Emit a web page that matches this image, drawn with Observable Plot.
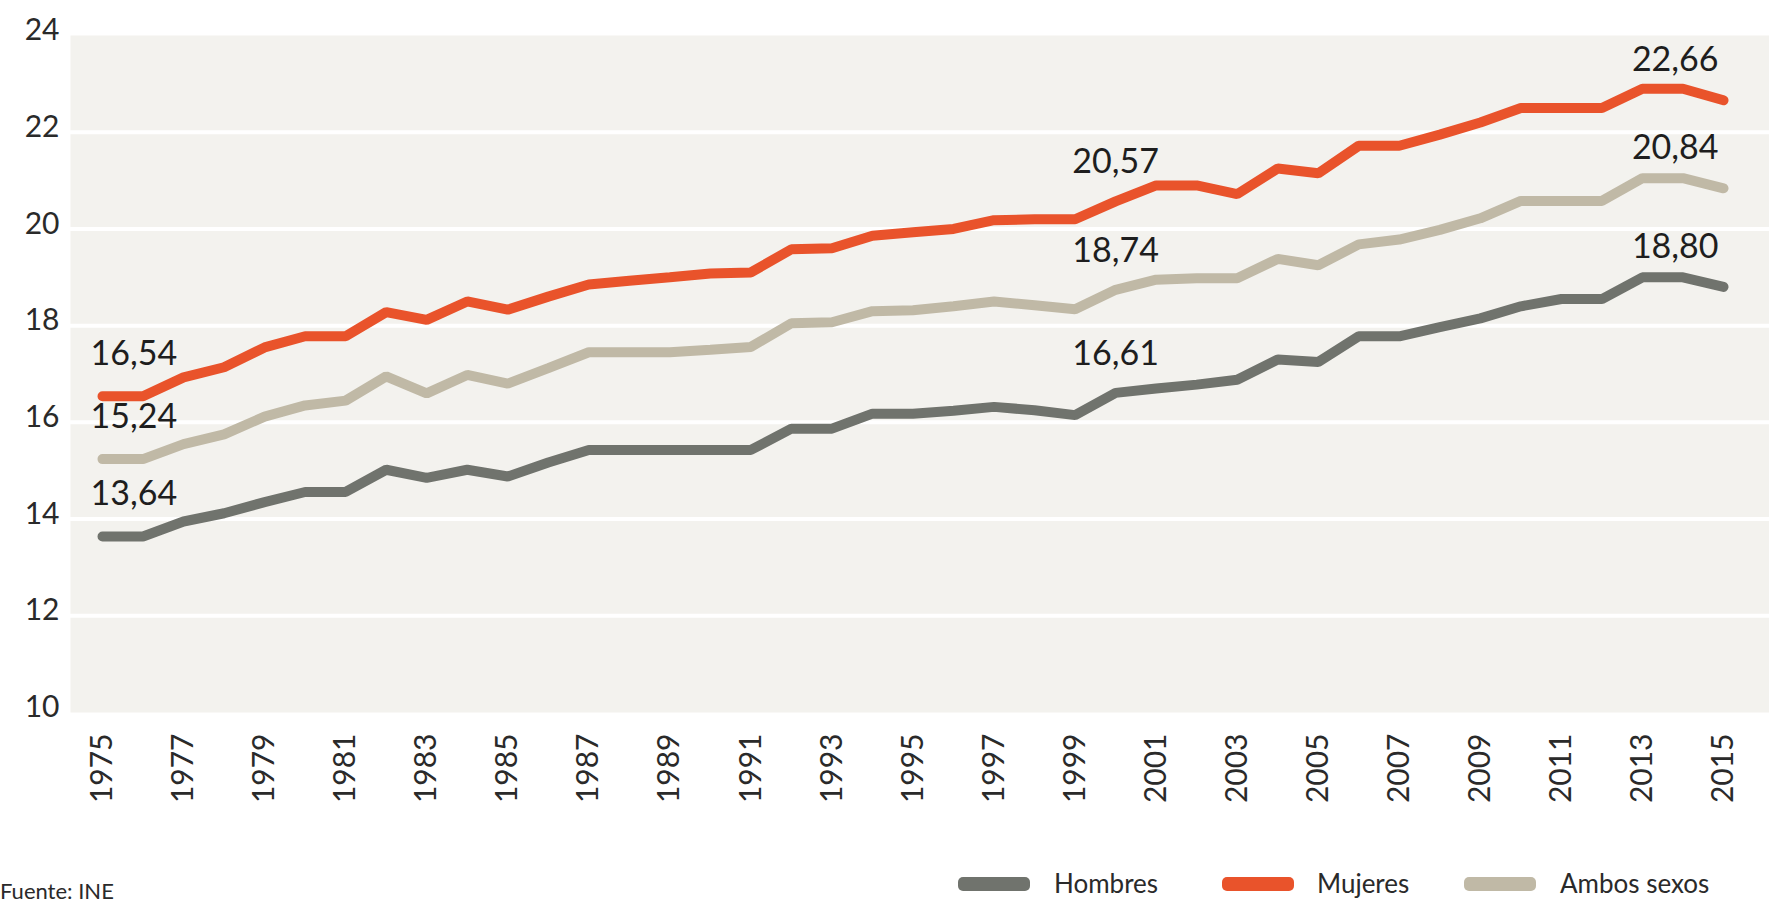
<!DOCTYPE html>
<html>
<head>
<meta charset="utf-8">
<script src="https://cdn.jsdelivr.net/npm/d3@7"></script>
<script src="https://cdn.jsdelivr.net/npm/@observablehq/plot@0.6"></script>
<style>
  html, body { margin: 0; padding: 0; background: #ffffff; }
  #wrap { position: relative; width: 1769px; height: 908px; font-family: Lato, "Open Sans", sans-serif; color: #2a2a2a; }
  #chart svg { display: block; }
  #foot { position: absolute; left: 0; top: 850px; width: 1769px; height: 58px; }
  .src { position: absolute; left: 0; top: 28px; font-size: 22px; line-height: 26px; color: #2a2a2a; }
  .sw { position: absolute; top: 27px; width: 72px; height: 14px; border-radius: 5px; }
  .lt { position: absolute; top: 18px; font-size: 26px; line-height: 30px; color: #2a2a2a; }
</style>
</head>
<body>
<div id="wrap">
  <div id="chart"></div>
  <div id="foot"></div>
</div>
<script>
// ---- data ----
const years = [1975,1976,1977,1978,1979,1980,1981,1982,1983,1984,1985,1986,1987,1988,1989,1990,1991,1992,1993,1994,1995,1996,1997,1998,1999,2000,2001,2002,2003,2004,2005,2006,2007,2008,2009,2010,2011,2012,2013,2014,2015];
const hombres = [13.64,13.64,13.95,14.12,14.35,14.56,14.56,15.02,14.85,15.02,14.88,15.17,15.43,15.43,15.43,15.43,15.43,15.87,15.87,16.18,16.18,16.24,16.32,16.25,16.15,16.61,16.70,16.78,16.88,17.30,17.25,17.78,17.78,17.97,18.15,18.40,18.55,18.55,19.00,19.00,18.80];
const mujeres = [16.54,16.54,16.93,17.14,17.55,17.78,17.78,18.28,18.12,18.50,18.33,18.60,18.85,18.93,19.00,19.08,19.10,19.58,19.60,19.86,19.93,20.00,20.18,20.20,20.20,20.57,20.90,20.90,20.72,21.25,21.15,21.72,21.72,21.95,22.20,22.50,22.50,22.50,22.90,22.90,22.66];
const ambos = [15.24,15.24,15.55,15.75,16.12,16.35,16.45,16.95,16.60,16.98,16.80,17.12,17.45,17.45,17.45,17.50,17.56,18.05,18.07,18.30,18.32,18.40,18.50,18.42,18.34,18.74,18.95,18.98,18.98,19.38,19.25,19.68,19.78,19.98,20.22,20.58,20.58,20.58,21.05,21.05,20.84];
const series = ["Hombres", "Mujeres", "Ambos sexos"];
const colors = ["#70736d", "#e9532b", "#c0b9a6"];
const yTicks = [10,12,14,16,18,20,22,24];
const gridTicks = [12,14,16,18,20,22];
const xTicks = [1975,1977,1979,1981,1983,1985,1987,1989,1991,1993,1995,1997,1999,2001,2003,2005,2007,2009,2011,2013,2015];
const labelYears = [1975, 2000, 2015];
const source = "Fuente: INE";

// ---- build table ----
const values = [hombres, mujeres, ambos];
const data = [];
series.forEach((s, k) => years.forEach((yr, i) => data.push({year: yr, value: values[k][i], serie: s})));
const labels = [];
series.forEach((s, k) => labelYears.forEach(yr => {
  const i = years.indexOf(yr);
  labels.push({year: yr, value: values[k][i], serie: s, text: values[k][i].toFixed(2).replace(".", ",")});
}));
const fmt = d => `${d}`;

const chart = Plot.plot({
  width: 1769,
  height: 850,
  marginLeft: 70,
  marginRight: 0,
  marginTop: 35,
  marginBottom: 138,
  style: {fontFamily: "Lato, 'Open Sans', sans-serif", background: "transparent", color: "#2a2a2a"},
  x: {domain: [1975, 2015], range: [102, 1723], axis: null},
  y: {domain: [10, 24], axis: null},
  color: {domain: series, range: colors},
  marks: [
    Plot.frame({fill: "#f3f2ee", stroke: null}),
    Plot.ruleY(gridTicks, {stroke: "#ffffff", strokeWidth: 4}),
    Plot.axisY(yTicks, {anchor: "left", label: null, tickSize: 0, tickPadding: 11, fontSize: 30, dy: -5, tickFormat: fmt, fill: "#2a2a2a"}),
    Plot.axisX(xTicks, {anchor: "bottom", label: null, tickSize: 0, tickPadding: 21, tickRotate: -90, fontSize: 30, tickFormat: fmt, fill: "#2a2a2a"}),
    Plot.line(data, {x: "year", y: "value", z: "serie", stroke: "serie", strokeWidth: 10, strokeLinecap: "round", strokeLinejoin: "miter"}),
    Plot.text(labels.filter(d => d.year === 1975), {x: "year", y: "value", text: "text", textAnchor: "start", dx: -12, dy: -42, fontSize: 34, fill: "#1e1e1e"}),
    Plot.text(labels.filter(d => d.year === 2000), {x: "year", y: "value", text: "text", textAnchor: "middle", dy: -39, fontSize: 34, fill: "#1e1e1e"}),
    Plot.text(labels.filter(d => d.year === 2015), {x: "year", y: "value", text: "text", textAnchor: "end", dx: -5, dy: -40, fontSize: 34, fill: "#1e1e1e"})
  ]
});
document.getElementById("chart").appendChild(chart);

// ---- footer: source + legend ----
const foot = document.getElementById("foot");
const src = document.createElement("div");
src.className = "src";
src.textContent = source;
foot.appendChild(src);
const swLeft = [958, 1222, 1464];
const txLeft = [1054, 1317, 1560];
series.forEach((s, k) => {
  const sw = document.createElement("div");
  sw.className = "sw";
  sw.style.left = swLeft[k] + "px";
  sw.style.background = colors[k];
  foot.appendChild(sw);
  const t = document.createElement("div");
  t.className = "lt";
  t.style.left = txLeft[k] + "px";
  t.textContent = s;
  foot.appendChild(t);
});
</script>
</body>
</html>
